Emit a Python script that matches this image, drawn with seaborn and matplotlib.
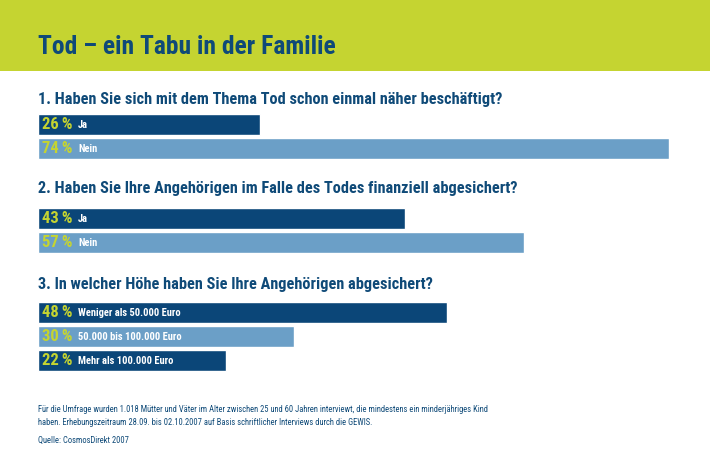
import matplotlib
matplotlib.use('Agg')
import matplotlib.pyplot as plt
import seaborn as sns
from matplotlib.patches import Rectangle

title = 'Tod – ein Tabu in der Familie'

q1_title = '1. Haben Sie sich mit dem Thema Tod schon einmal näher beschäftigt?'
q1_labels = ['Ja', 'Nein']
q1_values = [26, 74]

q2_title = '2. Haben Sie Ihre Angehörigen im Falle des Todes finanziell abgesichert?'
q2_labels = ['Ja', 'Nein']
q2_values = [43, 57]

q3_title = '3. In welcher Höhe haben Sie Ihre Angehörigen abgesichert?'
q3_labels = ['Weniger als 50.000 Euro', '50.000 bis 100.000 Euro', 'Mehr als 100.000 Euro']
q3_values = [48, 30, 22]

footnote = ('Für die Umfrage wurden 1.018 Mütter und Väter im Alter zwischen 25 und 60 Jahren interviewt, '
            'die mindestens ein minderjähriges Kind\n'
            'haben. Erhebungszeitraum 28.09. bis 02.10.2007 auf Basis schriftlicher Interviews durch die GEWIS.')
source = 'Quelle: CosmosDirekt 2007'

DARK = '#0b4678'
LIGHT = '#6b9fc7'
LIME = '#c5d431'
TEXT = '#0f4a78'

sns.set_style('white')
plt.rcParams['font.family'] = ['DejaVu Sans Condensed', 'Roboto Condensed', 'DejaVu Sans']

W, H = 710, 473
fig = plt.figure(figsize=(W / 100, H / 100), dpi=100)


def fx(px):
    return px / W


def fy(py):
    return 1 - py / H


# green header band
fig.patches.append(Rectangle((0, fy(71)), 1, 71 / H, transform=fig.transFigure,
                             facecolor=LIME, edgecolor='none', zorder=0))
fig.text(fx(38), fy(46.5), title, fontsize=18.4, fontweight='bold', color=TEXT, va='center')

x0, x1, xmax = 38, 669, 74
sections = [
    (q1_title, q1_labels, q1_values, [DARK, LIGHT], 99, 112.5, 24),
    (q2_title, q2_labels, q2_values, [DARK, LIGHT], 189, 206.5, 24),
    (q3_title, q3_labels, q3_values, [DARK, LIGHT, DARK], 284, 300.5, 24),
]

for qtitle, labels, values, colors, ty, top, pitch in sections:
    fig.text(fx(38), fy(ty), qtitle, fontsize=11.7, fontweight='bold', color=TEXT, va='center')
    n = len(values)
    ax = fig.add_axes([fx(x0), fy(top + n * pitch), (x1 - x0) / W, n * pitch / H])
    sns.barplot(x=values, y=labels, hue=labels, palette=colors, orient='h',
                width=0.9, ax=ax, legend=False, saturation=1)
    ax.set_xlim(0, xmax)
    ax.set_ylim(n - 0.5, -0.5)
    ax.axis('off')
    for i, (lab, v) in enumerate(zip(labels, values)):
        ax.text(0.45, i, f'{v}\u2009%', color=LIME, fontsize=12, fontweight='bold', va='center')
        ax.text(4.7, i, lab, color='white', fontsize=7.6, fontweight='bold', va='center')

fig.text(fx(38), fy(416), footnote, fontsize=6.15, color=TEXT, va='center', linespacing=1.5)
fig.text(fx(38), fy(440), source, fontsize=6.15, color=TEXT, va='center')

fig.savefig('out.png', dpi=100)
